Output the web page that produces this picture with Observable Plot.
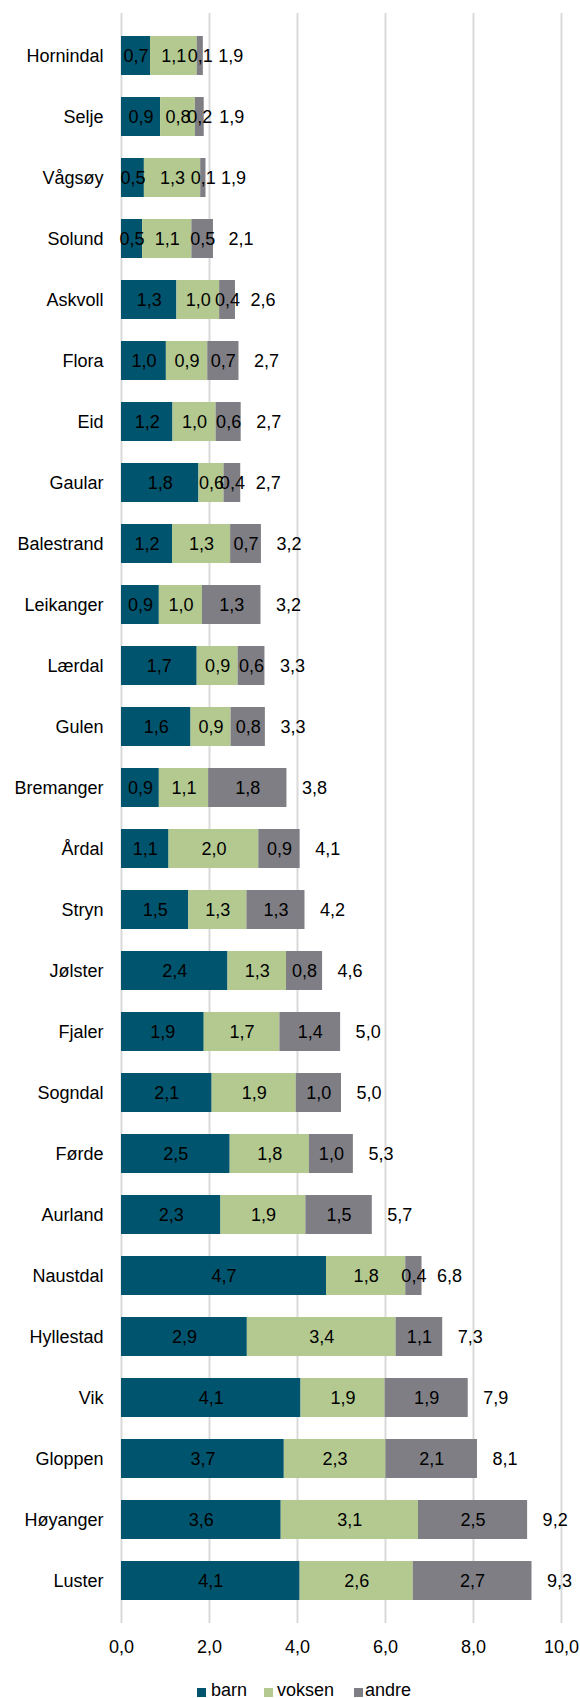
<!DOCTYPE html>
<html>
<head>
<meta charset="utf-8">
<script src="https://cdn.jsdelivr.net/npm/d3@7"></script>
<script src="https://cdn.jsdelivr.net/npm/@observablehq/plot@0.6"></script>
<style>
  html, body { margin: 0; padding: 0; background: #fff; }
  body { width: 580px; font-family: "Liberation Sans", Arial, sans-serif; }
  #legend { position: relative; height: 28px; margin-top: 10px; font-size: 18px; color: #000; }
  #legend .sw { position: absolute; width: 9px; height: 9px; top: 8px; }
  #legend .lb { position: absolute; top: 0; line-height: 20px; white-space: nowrap; }
</style>
</head>
<body>
<div id="chart"></div>
<div id="legend"></div>
<script>
const kommuner = ["Hornindal","Selje","Vågsøy","Solund","Askvoll","Flora","Eid","Gaular","Balestrand","Leikanger","Lærdal","Gulen","Bremanger","Årdal","Stryn","Jølster","Fjaler","Sogndal","Førde","Aurland","Naustdal","Hyllestad","Vik","Gloppen","Høyanger","Luster"];
const barn   = [0.66,0.89,0.52,0.48,1.26,1.02,1.17,1.76,1.16,0.86,1.72,1.58,0.86,1.08,1.53,2.42,1.88,2.06,2.47,2.26,4.66,2.86,4.08,3.70,3.63,4.06];
const voksen = [1.06,0.79,1.28,1.12,0.97,0.94,0.98,0.57,1.32,0.98,0.93,0.91,1.12,2.04,1.32,1.33,1.72,1.91,1.80,1.93,1.80,3.38,1.91,2.31,3.12,2.57];
const andre  = [0.14,0.20,0.12,0.49,0.36,0.71,0.57,0.38,0.70,1.33,0.61,0.78,1.78,0.94,1.32,0.82,1.38,1.03,1.00,1.51,0.37,1.06,1.89,2.08,2.48,2.70];
const grupper = ["barn","voksen","andre"];
const farger = ["#00546d","#b3c98f","#7f7e84"];
const xTicks = [0,2,4,6,8,10];

const serier = [barn, voksen, andre];
const rows = kommuner.flatMap((k, i) => grupper.map((g, j) => ({kommune: k, gruppe: g, verdi: serier[j][i]})));
const totals = kommuner.map((k, i) => ({kommune: k, total: barn[i] + voksen[i] + andre[i]}));
const fmt = v => (Math.round(v * 10 + 1e-9) / 10).toFixed(1).replace(".", ",");

const chart = Plot.plot({
  width: 580,
  height: 1670,
  marginLeft: 121,
  marginRight: 19,
  marginTop: 13,
  marginBottom: 47,
  style: {fontFamily: "'Liberation Sans', Arial, sans-serif", fontSize: "18px", color: "#000", background: "#fff"},
  x: {domain: [0, 10], label: null},
  y: {domain: kommuner, padding: 0, label: null},
  color: {domain: grupper, range: farger},
  marks: [
    Plot.gridX(xTicks, {stroke: "#d9d9d9", strokeOpacity: 1, strokeWidth: 2}),
    Plot.barX(rows, Plot.stackX({y: "kommune", x: "verdi", fill: "gruppe", order: grupper, insetTop: 11, insetBottom: 11})),
    Plot.text(rows, Plot.stackX({y: "kommune", x: "verdi", z: "gruppe", order: grupper, text: d => fmt(d.verdi), fill: "#000", fontSize: 18})),
    Plot.text(totals, {y: "kommune", x: "total", text: d => fmt(d.total), textAnchor: "start", dx: 15, fill: "#000", fontSize: 18}),
    Plot.axisX(xTicks, {tickFormat: fmt, tickSize: 0, tickPadding: 17, fontSize: 18, label: null}),
    Plot.axisY({tickSize: 0, tickPadding: 18, fontSize: 18, label: null})
  ]
});
document.getElementById("chart").appendChild(chart);

const legend = document.getElementById("legend");
const legendPos = [{sw: 197, lb: 211}, {sw: 264, lb: 277}, {sw: 354, lb: 365}];
grupper.forEach((g, i) => {
  const sw = document.createElement("div");
  sw.className = "sw";
  sw.style.left = legendPos[i].sw + "px";
  sw.style.background = farger[i];
  const lb = document.createElement("div");
  lb.className = "lb";
  lb.style.left = legendPos[i].lb + "px";
  lb.textContent = g;
  legend.appendChild(sw);
  legend.appendChild(lb);
});
</script>
</body>
</html>
